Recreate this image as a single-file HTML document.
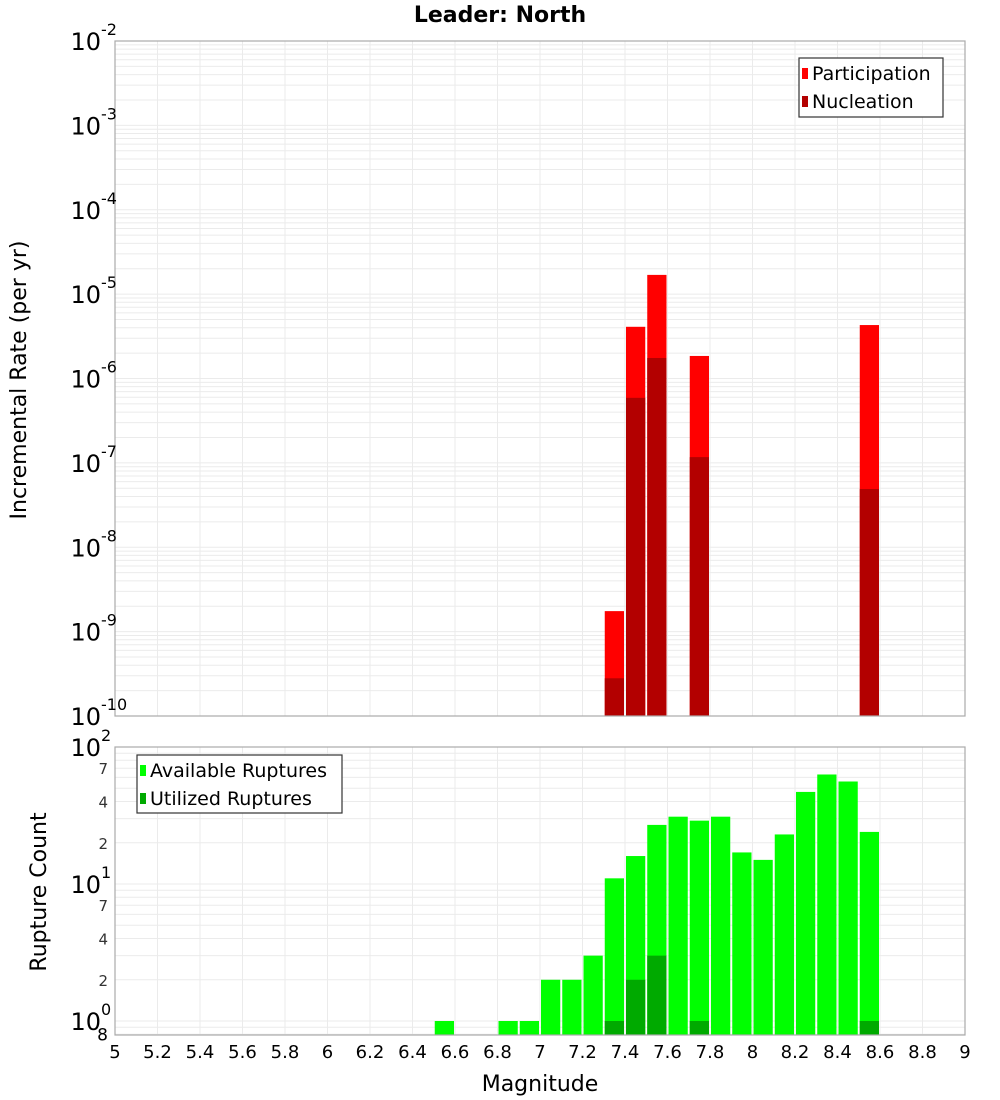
<!DOCTYPE html>
<html><head><meta charset="utf-8"><style>
body{margin:0;background:#fff;}
svg{display:block;font-family:"Liberation Sans","DejaVu Sans",sans-serif;}
</style></head><body>
<svg id="chart" width="1000" height="1100" xmlns="http://www.w3.org/2000/svg">
<text x="500" y="22" text-anchor="middle" font-size="22" font-weight="bold" font-family="DejaVu Sans, sans-serif">Leader: North</text>
<g id="topPlot"></g>
<g id="botPlot"></g>
<text transform="translate(26,380) rotate(-90)" text-anchor="middle" font-size="22" font-family="DejaVu Sans, sans-serif">Incremental Rate (per yr)</text>
<text transform="translate(46,892) rotate(-90)" text-anchor="middle" font-size="22" font-family="DejaVu Sans, sans-serif">Rupture Count</text>
<text x="540" y="1091" text-anchor="middle" font-size="22" font-family="DejaVu Sans, sans-serif">Magnitude</text>
</svg>
<script>
const rateBins=[7.3,7.4,7.5,7.7,8.5];
const participation=[1.75e-9,4.1e-6,1.69e-5,1.85e-6,4.3e-6];
const nucleation=[2.8e-10,5.9e-7,1.75e-6,1.17e-7,4.9e-8];
const countBins=[6.5,6.8,6.9,7.0,7.1,7.2,7.3,7.4,7.5,7.6,7.7,7.8,7.9,8.0,8.1,8.2,8.3,8.4,8.5];
const available=[1,1,1,2,2,3,11,16,27,31,29,31,17,15,23,47,63,56,24];
const utilBins=[7.3,7.4,7.5,7.7,8.5];
const utilized=[1,2,3,1,1];
const xTicks=[5,5.2,5.4,5.6,5.8,6,6.2,6.4,6.6,6.8,7,7.2,7.4,7.6,7.8,8,8.2,8.4,8.6,8.8,9];
const topDecades=[-2,-3,-4,-5,-6,-7,-8,-9,-10];
const botDecades=[2,1,0];
const minorLabels=[2,4,7];

const NS='http://www.w3.org/2000/svg';
const L=115,R=965;
const xs=m=>L+(m-5)*(R-L)/4;
const T0=41,T1=716;
const yTop=v=>T0+(-2-Math.log10(v))*(T1-T0)/8;
const B0=747,B1=1035;
const yBot=v=>1021-137*Math.log10(v);
function mk(p,tag,a){const e=document.createElementNS(NS,tag);for(const k in a)e.setAttribute(k,a[k]);p.appendChild(e);return e;}
const gTop=document.getElementById('topPlot'),gBot=document.getElementById('botPlot');

function grid(g,y0,y1,yf,dmin,dmax){
  for(let d=dmin;d<dmax;d++)for(let k=1;k<10;k++){const y=yf(k*Math.pow(10,d));if(y>=y0-0.5&&y<=y1+0.5){
    const l=mk(g,'line',{x1:L,x2:R,y1:y,y2:y,stroke:'#ebebeb','stroke-width':1});
    
    }}
  xTicks.forEach(t=>{const l=mk(g,'line',{x1:xs(t),x2:xs(t),y1:y0,y2:y1,stroke:'#ebebeb','stroke-width':1});
    
    });
}
grid(gTop,T0,T1,yTop,-10,-2);
grid(gBot,B0,B1,yBot,-1,2);

function bar(g,m,v,yf,base,fill,name){
  const x0=xs(m)+1,x1=xs(m+0.1)-1,y=yf(v);
  const r=mk(g,'rect',{x:x0,y:y,width:x1-x0,height:base-y,fill:fill});
  
  
}
rateBins.forEach((m,i)=>bar(gTop,m,participation[i],yTop,T1,'#ff0000','participation-bar'));
rateBins.forEach((m,i)=>bar(gTop,m,nucleation[i],yTop,T1,'#b30000','nucleation-bar'));
countBins.forEach((m,i)=>bar(gBot,m,available[i],yBot,B1,'#00ff00','available-bar'));
utilBins.forEach((m,i)=>bar(gBot,m,utilized[i],yBot,B1,'#00aa00','utilized-bar'));

let f=mk(gTop,'rect',{x:L,y:T0,width:R-L,height:T1-T0,fill:'none',stroke:'#aaa','stroke-width':1.2});


f=mk(gBot,'rect',{x:L,y:B0,width:R-L,height:B1-B0,fill:'none',stroke:'#aaa','stroke-width':1.2});



function powLabel(g,y,exp){
  const t=mk(g,'text',{x:101,y:y+9,'text-anchor':'end','font-size':24,'font-family':'DejaVu Sans, sans-serif'});
  t.textContent='10';
  
  
  const s=mk(g,'text',{x:101,y:y-6,'font-size':16,'font-family':'DejaVu Sans, sans-serif'});
  s.textContent=String(exp);
  
  
}
topDecades.forEach(d=>powLabel(gTop,yTop(Math.pow(10,d)),d));
botDecades.forEach(d=>powLabel(gBot,yBot(Math.pow(10,d)),d));
[0,1].forEach(d=>minorLabels.forEach(k=>{const y=yBot(k*Math.pow(10,d));
  const t=mk(gBot,'text',{x:108,y:y+6,'text-anchor':'end','font-size':15,fill:'#333','font-family':'DejaVu Sans, sans-serif'});
  t.textContent=String(k);
  
  }));
{const t=mk(gBot,'text',{x:108,y:yBot(0.8)+6,'text-anchor':'end','font-size':17,'font-family':'DejaVu Sans, sans-serif'});
 t.textContent='8';
 
 }
xTicks.forEach(m=>{const t=mk(gBot,'text',{x:xs(m),y:1058,'text-anchor':'middle','font-size':18,'font-family':'DejaVu Sans, sans-serif'});
  t.textContent=String(m);
  
  });

function legend(g,x,y,w,h,items){
  const lg=mk(g,'g',{});
  
  
  mk(lg,'rect',{x:x,y:y,width:w,height:h,fill:'#fff',stroke:'#333','stroke-width':1.2});
  items.forEach((it,i)=>{const cy=y+15+i*28;
    const e=mk(lg,'g',{});
    
    
    mk(e,'rect',{x:x+3,y:cy-5,width:6,height:11,fill:it[1]});
    const t=mk(e,'text',{x:x+13,y:cy+7,'font-size':19,'font-family':'DejaVu Sans, sans-serif'});
    t.textContent=it[0];});
}
legend(gTop,799,58,144,59,[['Participation','#ff0000'],['Nucleation','#b30000']]);
legend(gBot,137,755,205,58,[['Available Ruptures','#00ff00'],['Utilized Ruptures','#00aa00']]);
</script>
</body></html>
